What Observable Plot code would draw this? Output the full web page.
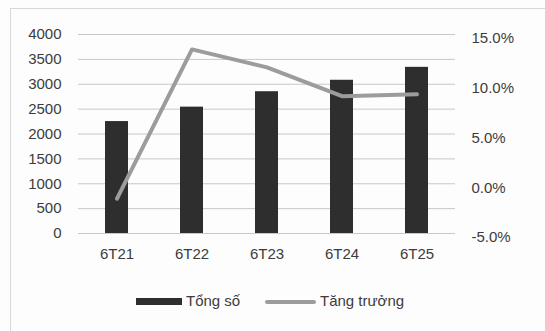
<!DOCTYPE html>
<html>
<head>
<meta charset="utf-8">
<script src="https://cdn.jsdelivr.net/npm/d3@7"></script>
<script src="https://cdn.jsdelivr.net/npm/@observablehq/plot@0.6"></script>
<style>
  html, body { margin: 0; padding: 0; background: #fdfdfd; }
  #wrap { position: relative; width: 545px; height: 331px; overflow: hidden;
          font-family: "Liberation Sans", Arial, sans-serif; }
  #frame { position: absolute; left: 10px; top: 8px; width: 540px; height: 330px;
           border: 1px solid #d8d8d8; box-sizing: border-box; pointer-events: none; }
  #chart { position: absolute; left: 0; top: 0; }
  #legend { position: absolute; left: 0; top: 270px; width: 545px; height: 61px;
            font-size: 15px; color: #3c3c3c; }
  .sw { position: absolute; }
  .lb { position: absolute; top: 22px; line-height: 18px; }
</style>
</head>
<body>
<div id="wrap">
  <div id="frame"></div>
  <div id="chart"></div>
  <div id="legend">
    <span class="sw" style="left:136px; top:28px; width:46px; height:7px; background:#2e2e2e;"></span>
    <span class="lb" style="left:186px;">Tổng số</span>
    <span class="sw" style="left:265px; top:30px; width:51px; height:4px; background:#9c9c9c; border-radius:2px;"></span>
    <span class="lb" style="left:320px;">Tăng trưởng</span>
  </div>
</div>
<script>
// Half-year periods
const periods = ["6T21", "6T22", "6T23", "6T24", "6T25"];
// Total (left axis)
const totals = [2250, 2540, 2850, 3080, 3340];
// Growth, percent (right axis)
const growth = [-1.5, 13.5, 11.7, 8.8, 9.0];
// Axis ticks
const leftTicks = [0, 500, 1000, 1500, 2000, 2500, 3000, 3500, 4000];
const rightTicks = [-5, 0, 5, 10, 15];

// Right axis spans -5%..15% over the same height as 0..4000
const pctMin = -5, pctMax = 15, yMax = 4000;
const toY = p => (p - pctMin) / (pctMax - pctMin) * yMax;

const rows = periods.map((p, i) => ({period: p, total: totals[i], growth: growth[i], gy: toY(growth[i])}));

const chart = Plot.plot({
  width: 545,
  height: 270,
  marginTop: 34,
  marginBottom: 37,
  marginLeft: 78,
  marginRight: 90,
  style: {fontFamily: "'Liberation Sans', Arial, sans-serif", fontSize: "15px", color: "#3c3c3c", background: "transparent"},
  x: {domain: periods, paddingInner: 0.7, paddingOuter: 0.35, label: null},
  y: {domain: [0, yMax], label: null},
  marks: [
    Plot.gridY(leftTicks, {stroke: "#c8c8c8", strokeOpacity: 1, strokeWidth: 1}),
    Plot.barY(rows, {x: "period", y: "total", fill: "#2e2e2e"}),
    Plot.line(rows, {x: "period", y: "gy", stroke: "#9c9c9c", strokeWidth: 4, strokeLinejoin: "round", strokeLinecap: "round"}),
    Plot.axisY(leftTicks, {anchor: "left", tickSize: 0, tickPadding: 17, fill: "#3c3c3c", label: null,
      tickFormat: d => String(d)}),
    Plot.axisY(rightTicks.map(toY), {anchor: "right", tickSize: 0, tickPadding: 16, fill: "#3c3c3c", label: null,
      tickFormat: d => (d / yMax * (pctMax - pctMin) + pctMin).toFixed(1) + "%", dy: 4}),
    Plot.axisX({tickSize: 0, tickPadding: 15, fill: "#3c3c3c", label: null})
  ]
});
document.getElementById("chart").appendChild(chart);
</script>
</body>
</html>
